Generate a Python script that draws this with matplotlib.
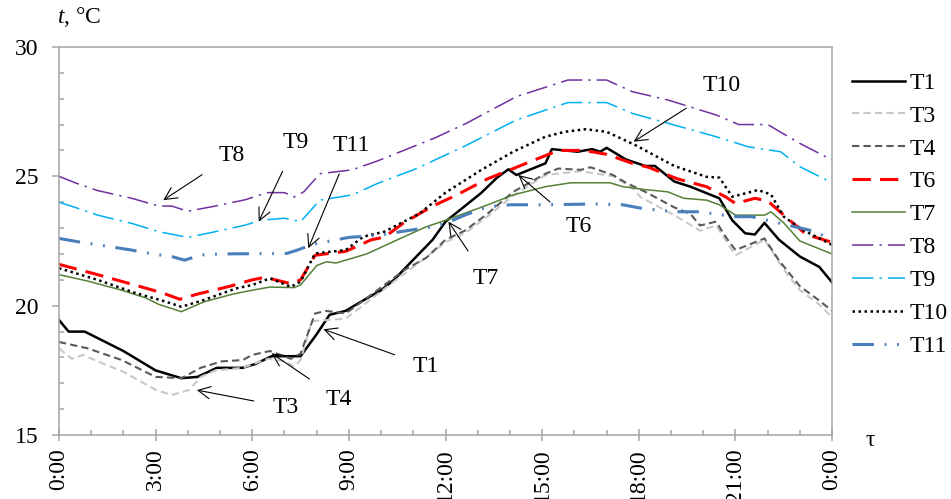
import matplotlib
matplotlib.use("Agg")
import matplotlib.pyplot as plt
from matplotlib.ticker import MultipleLocator

plt.rcParams['font.family'] = ['Liberation Serif', 'DejaVu Serif']
plt.rcParams['mathtext.fontset'] = 'custom'
plt.rcParams['mathtext.it'] = 'Liberation Serif:italic'
plt.rcParams['mathtext.rm'] = 'Liberation Serif'

# readings: hour of day -> temperature, deg C
h_T1 = [0, 0.3, 0.8, 1.2, 2, 3, 3.8, 4.3, 4.9, 5.7, 6.1, 6.6, 7.0, 7.5, 8.0, 8.4, 8.9, 9.3, 10.0, 10.4,
        10.9, 11.6, 12.0, 12.6, 13.1, 13.6, 13.95, 14.2, 14.7, 15.1, 15.3, 16.1, 16.55, 16.8, 17.0, 17.6, 18.2,
        18.5, 19.1, 19.6, 20.1, 20.5, 20.9, 21.3, 21.6, 21.9, 22.35, 23.0, 23.6, 24]
t_T1 = [19.45, 19.0, 19.0, 18.75, 18.25, 17.5, 17.2, 17.25, 17.6, 17.6, 17.75, 18.05, 18.05, 18.05, 18.9, 19.65,
        19.8, 20.1, 20.6, 21.0, 21.65, 22.55, 23.25, 23.85, 24.35, 24.95, 25.27, 25.05, 25.3, 25.5, 26.05, 25.95,
        26.05, 25.95, 26.1, 25.65, 25.4, 25.4, 24.8, 24.6, 24.35, 24.15, 23.3, 22.8, 22.75, 23.2, 22.55, 21.9,
        21.5, 20.9]

h_T3 = [0, 0.4, 0.75, 1.2, 2, 3, 3.5, 4.05, 4.4, 4.85, 5.7, 6.5, 7.0, 7.3, 7.5, 7.85, 8.9, 10.1, 11, 12,
        12.6, 13.3, 14.1, 15.1, 16.2, 17.2, 17.8, 18.05, 19.1, 19.9, 20.4, 21.0, 21.6, 21.9, 22.5, 23.0, 23.6, 24]
t_T3 = [18.35, 17.95, 18.1, 17.85, 17.45, 16.75, 16.55, 16.75, 17.25, 17.5, 17.6, 17.95, 17.85, 17.65, 17.9,
        19.4, 19.5, 20.65, 21.5, 22.45, 22.8, 23.45, 24.25, 25.05, 25.2, 25.0, 24.55, 24.2, 23.5, 22.9, 23.1,
        21.95, 22.35, 22.55, 21.4, 20.6, 20.05, 19.55]

h_T4 = [0, 0.9, 1.95, 3.0, 3.8, 4.4, 5.05, 5.7, 6.0, 6.55, 7.2, 7.5, 7.95, 8.3, 8.9, 9.45, 10.1, 10.75, 11.4,
        12.0, 12.6, 13.3, 14.1, 15.1, 15.5, 16.2, 16.5, 17.2, 17.6, 18.2, 19.1, 19.6, 19.9, 20.4, 20.7, 21.0,
        21.4, 21.9, 22.35, 23.0, 23.6, 24]
t_T4 = [18.6, 18.35, 17.9, 17.25, 17.2, 17.6, 17.85, 17.9, 18.1, 18.25, 17.95, 18.15, 19.7, 19.8, 19.7, 20.2,
        20.8, 21.4, 21.85, 22.55, 22.9, 23.55, 24.4, 25.1, 25.3, 25.25, 25.35, 25.05, 24.75, 24.4, 23.8, 23.55,
        23.1, 23.25, 22.65, 22.15, 22.35, 22.6, 21.75, 20.75, 20.2, 19.8]

h_T6 = [0, 0.9, 1.2, 2.35, 3.2, 3.75, 4.3, 5.3, 6.0, 6.4, 7.2, 7.5, 7.95, 8.9, 9.7, 10.1, 10.7, 11.6, 12.3,
        13.3, 14.1, 14.9, 15.5, 16.3, 17.0, 17.8, 18.3, 19.2, 20.1, 20.7, 21.0, 21.6, 22.0, 22.5, 23.2, 24]
t_T6 = [21.6, 21.3, 21.2, 20.8, 20.5, 20.25, 20.45, 20.75, 21.0, 21.1, 20.85, 21.0, 21.95, 22.1, 22.55, 22.65,
        23.2, 23.85, 24.25, 24.9, 25.3, 25.7, 26.0, 26.0, 25.85, 25.5, 25.35, 24.9, 24.6, 24.2, 23.95, 24.15,
        24.05, 23.5, 22.75, 22.45]

h_T7 = [0, 0.9, 1.95, 2.7, 3.1, 3.8, 4.5, 5.4, 6.0, 6.55, 7.3, 7.5, 8.0, 8.3, 8.6, 9.55, 10.6, 11.4, 12.0,
        13.1, 14.1, 15.1, 15.9, 17.1, 17.5, 18.1, 18.9, 19.4, 20.1, 20.5, 21.0, 21.9, 22.1, 22.5, 23.0, 24]
t_T7 = [21.2, 20.95, 20.6, 20.3, 20.05, 19.77, 20.15, 20.45, 20.6, 20.72, 20.7, 20.8, 21.55, 21.7, 21.65, 22.0,
        22.6, 23.05, 23.3, 23.8, 24.28, 24.6, 24.75, 24.75, 24.6, 24.5, 24.4, 24.15, 24.08, 23.9, 23.5, 23.5,
        23.63, 23.2, 22.5, 22.0]

h_T8 = [0, 0.5, 1.2, 2.26, 3.1, 3.5, 4.0, 4.85, 5.8, 6.45, 7.0, 7.3, 7.6, 8.1, 9.1, 9.9, 11.1, 11.7, 12.65,
        14.2, 15.8, 17.0, 17.8, 18.9, 20.4, 21.1, 22.0, 23.0, 24]
t_T8 = [25.0, 24.75, 24.45, 24.15, 23.85, 23.85, 23.65, 23.85, 24.1, 24.37, 24.37, 24.2, 24.4, 25.1, 25.25,
        25.6, 26.2, 26.5, 27.05, 28.08, 28.72, 28.72, 28.27, 27.95, 27.37, 27.0, 27.0, 26.27, 25.63]

h_T9 = [0, 0.5, 1.2, 2.26, 3.1, 4.0, 4.85, 5.8, 6.25, 7.0, 7.5, 8.1, 9.1, 9.9, 11.1, 12.65, 14.2, 15.8, 17.0,
        17.8, 18.9, 20.4, 21.4, 22.4, 23.0, 24]
t_T9 = [24.0, 23.8, 23.5, 23.18, 22.86, 22.64, 22.86, 23.12, 23.3, 23.38, 23.25, 24.08, 24.28, 24.73, 25.3,
        26.2, 27.18, 27.85, 27.85, 27.43, 27.05, 26.53, 26.14, 25.95, 25.37, 24.75]

h_T10 = [0, 1.2, 2.35, 3.2, 3.8, 4.5, 5.5, 6.0, 6.55, 7.2, 7.5, 7.95, 8.9, 9.45, 10.1, 11.2, 12.0, 13.1, 14.1,
         15.1, 15.7, 16.35, 17.0, 17.9, 19.1, 20.1, 20.5, 20.9, 21.7, 22.1, 22.5, 23.1, 24]
t_T10 = [21.45, 21.0, 20.5, 20.2, 19.96, 20.22, 20.67, 20.8, 21.06, 20.73, 20.93, 22.02, 22.15, 22.67, 22.86,
         23.57, 24.37, 25.24, 25.95, 26.53, 26.72, 26.82, 26.72, 26.2, 25.4, 24.98, 24.95, 24.21, 24.47, 24.3,
         23.44, 22.92, 22.35]

h_T11 = [0, 0.6, 2.26, 2.9, 3.5, 3.9, 4.4, 5.0, 7.07, 7.4, 7.9, 9.0, 10.0, 10.6, 11.6, 12.0, 12.6, 13.3, 14.0,
         15.05, 16.6, 17.5, 18.1, 19.1, 19.9, 20.95, 21.5, 22.6, 23.5, 24]
t_T11 = [22.6, 22.47, 22.15, 22.0, 21.9, 21.76, 21.96, 22.0, 22.02, 22.15, 22.38, 22.64, 22.73, 22.86, 23.05,
         23.18, 23.5, 23.82, 23.9, 23.9, 23.93, 23.9, 23.76, 23.63, 23.63, 23.44, 23.44, 23.12, 22.86, 22.5]

tick_hours = [0, 3, 6, 9, 12, 15, 18, 21, 24]
tick_labels = ['0:00', '3:00', '6:00', '9:00', '12:00', '15:00', '18:00', '21:00', '0:00']

# label, text position, arrow tip
notes = [
    ('T8', (5.37, 25.82), (3.24, 24.08)),
    ('T9', (7.36, 26.29), (6.2, 23.25)),
    ('T11', (9.07, 26.2), (7.74, 22.22)),
    ('T10', (20.56, 28.49), (17.84, 26.34)),
    ('T6', (16.12, 23.08), (14.26, 25.05)),
    ('T7', (13.26, 21.07), (12.09, 23.25)),
    ('T1', (11.4, 17.67), (8.21, 19.09)),
    ('T4', (8.7, 16.39), (6.6, 18.16)),
    ('T3', (7.05, 16.08), (4.28, 16.74)),
]

fig = plt.figure(figsize=(9.51, 4.99), dpi=100)
ax = fig.add_axes([0.062, 0.128, 0.813, 0.778])

ax.plot(h_T1, t_T1, color='black', lw=1.8, label='T1')
ax.plot(h_T3, t_T3, color='#c8c8c8', lw=1.5, dashes=(3.5, 2), label='T3')
ax.plot(h_T4, t_T4, color='#595959', lw=1.5, dashes=(3.5, 2), label='T4')
ax.plot(h_T6, t_T6, color='#ff0000', lw=2.2, dashes=(6, 3), label='T6')
ax.plot(h_T7, t_T7, color='#538135', lw=1.1, label='T7')
ax.plot(h_T8, t_T8, color='#7030a0', lw=1.1, dashes=(14, 4, 1.5, 4), label='T8')
ax.plot(h_T9, t_T9, color='#00b0f0', lw=1.1, dashes=(14, 4, 1.5, 4), label='T9')
ax.plot(h_T10, t_T10, color='black', lw=1.8, dashes=(1, 1.4), label='T10')
ax.plot(h_T11, t_T11, color='#4a7ebb', lw=2.2, dashes=(7, 3.5, 0.6, 3.5, 0.6, 3.5), label='T11')

for txt, xy_text, xy_tip in notes:
    ax.annotate(txt, xy=xy_tip, xytext=xy_text, fontsize=17, ha='center', va='center',
                arrowprops=dict(arrowstyle='->', color='black', lw=0.8, mutation_scale=22,
                                shrinkA=12, shrinkB=0))

ax.set_xlim(0, 24)
ax.set_ylim(15, 30)
ax.set_xticks(tick_hours)
ax.set_xticklabels(tick_labels, rotation=90, va='top')
ax.xaxis.set_minor_locator(MultipleLocator(1))
ax.set_yticks([15, 20, 25, 30])
ax.yaxis.set_minor_locator(MultipleLocator(1))

grey = '#a6a6a6'
for s in ax.spines.values():
    s.set_color(grey)
    s.set_linewidth(1.1)
ax.tick_params(axis='both', which='major', labelsize=17, color=grey, width=1.1)
ax.tick_params(axis='y', which='major', direction='out', length=5, pad=10)
ax.tick_params(axis='x', which='major', direction='inout', length=9, pad=5)
ax.tick_params(axis='both', which='minor', direction='in', length=3.5, color=grey, width=1.1)

fig.text(0.06, 0.965, r'$\mathit{t}$, °C', fontsize=17, ha='left', va='center')
fig.text(0.915, 0.118, 'τ', fontsize=17, ha='center', va='center')

ax.legend(loc='upper left', bbox_to_anchor=(0.896, 0.855), bbox_transform=fig.transFigure,
          frameon=False, fontsize=17, handlelength=2.25, handletextpad=0.2, labelspacing=0.48,
          borderpad=0, borderaxespad=0)

fig.savefig('out.png', dpi=100)
